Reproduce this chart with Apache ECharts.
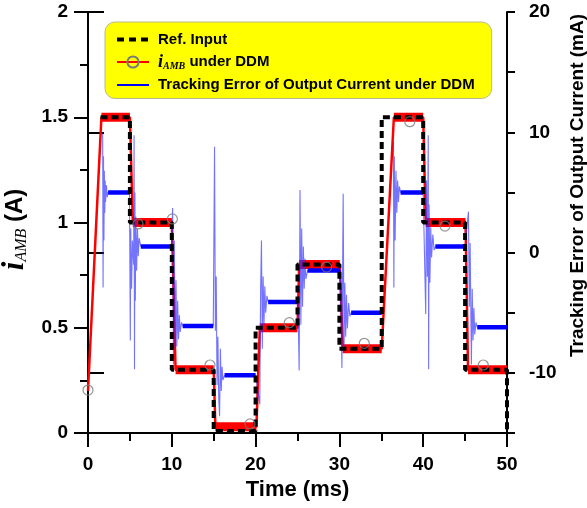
<!DOCTYPE html>
<html><head><meta charset="utf-8">
<script src="https://cdn.jsdelivr.net/npm/echarts@6/dist/echarts.min.js"></script>
<style>html,body{margin:0;padding:0;background:#fff}#c{width:587px;height:508px}</style>
</head><body><div id="c"></div>
<script>
// ---- tick labels ----
const xTicks = [0, 10, 20, 30, 40, 50];
const leftTicks = [0, 0.5, 1, 1.5, 2];
const rightTicks = [-10, 0, 10, 20];

// ---- Ref. Input (A) ----
const refT = [1.5, 5, 5, 10, 10, 15, 15, 20, 20, 25, 25, 30, 30, 35.05, 35.05, 40, 40, 45, 45, 50, 50];
const refV = [1.5, 1.5, 1.0, 1.0, 0.3, 0.3, 0.01, 0.01, 0.5, 0.5, 0.8, 0.8, 0.4, 0.4, 1.5, 1.5, 1.0, 1.0, 0.3, 0.3, 0];

// ---- i_AMB under DDM (A) ----
const iT = [0, 1.6, 5.0, 5.35, 10.0, 10.45, 15.0, 15.2, 20.1, 20.5, 25.0, 25.2, 30.05, 30.4, 35.05, 36.5, 40.0, 40.3, 45.05, 45.35, 50];
const iV = [0.2, 1.5, 1.5, 1.0, 1.0, 0.3, 0.3, 0.03, 0.03, 0.5, 0.5, 0.8, 0.8, 0.4, 0.4, 1.5, 1.5, 1.0, 1.0, 0.3, 0.3];

// ---- circle markers on i_AMB ----
const mkT = [0, 5.97, 10.07, 14.56, 19.33, 24.02, 28.48, 32.97, 38.4, 42.6, 47.17];
const mkV = [0.204, 0.993, 1.017, 0.323, 0.043, 0.524, 0.788, 0.426, 1.479, 0.983, 0.323];

// ---- Tracking error of output current (mA) ----
const errT = [1.75, 1.8, 1.85, 1.9, 1.95, 2.0, 2.05, 2.1, 2.2, 2.3, 2.4, 4.95,
  5.05, 5.1, 5.2, 5.3, 5.45, 5.5, 5.55, 5.6, 5.65, 5.7, 5.8, 5.9, 6.0, 6.1, 6.3, 9.95,
  10.1, 10.2, 10.3, 10.4, 10.5, 10.6, 10.7, 10.8, 10.9, 11.0, 11.15, 11.3, 14.95,
  15.1, 15.2, 15.3, 15.4, 15.5, 15.6, 15.7, 15.8, 15.9, 16.0, 16.1, 16.3, 20.0,
  20.5, 20.6, 20.7, 20.8, 20.9, 21.0, 21.1, 21.2, 21.35, 21.5, 25.05,
  25.2, 25.3, 25.4, 25.5, 25.6, 25.7, 25.8, 25.9, 26.0, 26.2, 30.1,
  30.3, 30.45, 30.55, 30.65, 30.75, 30.85, 30.95, 31.1, 31.25, 31.4, 35.05, 35.1,
  36.45, 36.5, 36.55, 36.65, 36.75, 36.85, 36.95, 37.05, 37.15, 37.3, 40.0,
  40.3, 40.4, 40.5, 40.6, 40.65, 40.7, 40.8, 40.9, 41.0, 41.15, 41.3, 41.45, 45.0,
  45.4, 45.5, 45.6, 45.75, 45.85, 45.95, 46.05, 46.15, 46.3, 46.45, 50];
const errV = [9.9, -2.9, 8.0, 1.0, 6.8, 3.3, 6.0, 4.2, 5.6, 4.6, 5.0, 5.0,
  -7.3, 2.0, -3.0, 1.0, -1.0, 9.75, -9.7, 5.0, -4.0, 3.0, -1.5, 2.0, -0.3, 1.2, 0.5, 0.5,
  3.7, -9.3, 1.0, -8.0, -2.3, -7.8, -4.0, -7.2, -5.2, -6.6, -5.8, -6.1, -6.1,
  8.8, -6.5, -2.0, -11.0, -7.0, -12.0, -13.6, -8.0, -11.5, -9.5, -10.6, -10.2, -10.2,
  -12.6, -3.0, 1.0, -8.0, -2.0, -6.0, -2.8, -5.0, -3.6, -4.1, -4.1,
  -9.8, 5.2, -6.0, 2.0, -4.5, 0.5, -3.0, -0.5, -2.2, -1.5, -1.5,
  -9.6, 4.9, -8.0, -2.5, -7.0, -3.5, -6.3, -4.2, -5.3, -5.0, -5.0, null,
  9.2, -2.9, 8.0, 1.0, 6.8, 3.3, 6.0, 4.2, 5.5, 5.0, 5.0,
  -5.1, 6.0, -2.0, 9.75, -9.7, 4.0, -2.5, 2.1, -0.4, 1.5, 0.2, 0.5, 0.5,
  3.4, -4.5, 0.8, -9.3, -3.0, -7.3, -4.6, -6.8, -5.8, -6.2, -6.2];

const N_REF = 'Ref. Input';
const N_I = 'i_AMB under DDM';
const N_ERR = 'Tracking Error of Output Current under DDM';

const pairs = (ts, vs) => ts.map((t, k) => [t, vs[k] == null ? '-' : vs[k]]);
function flats(ts, vs) {
  const out = [];
  for (let k = 0; k < ts.length - 1; k++) {
    if (vs[k] != null && vs[k] === vs[k + 1]) {
      out.push([ts[k], vs[k]], [ts[k + 1], vs[k + 1]], [ts[k + 1], '-']);
    }
  }
  return out;
}

const SANS = '"Liberation Sans", Arial, sans-serif';
const SERIF = '"Liberation Serif", "Times New Roman", serif';
const blk = '#000';
const NOFILL = 'rgba(0,0,0,0)';
const axisLine = { show: true, onZero: false, lineStyle: { color: blk, width: 2 } };
const lbl = (m) => ({ color: blk, fontFamily: SANS, fontWeight: 'bold', fontSize: 19, margin: m });

const chart = echarts.init(document.getElementById('c'), null, { renderer: 'canvas' });
chart.setOption({
  animation: false,
  backgroundColor: '#fff',
  grid: { left: 88, right: 80, top: 12, bottom: 75, outerBoundsMode: 'none', containLabel: false },
  legend: {
    orient: 'vertical', left: 105, top: 22,
    padding: [10, 17, 6, 10], itemGap: 6, itemWidth: 32, itemHeight: 14,
    backgroundColor: '#ffff00', borderColor: '#b8b890', borderWidth: 1, borderRadius: 10,
    data: [
      { name: N_REF, itemStyle: { color: NOFILL, borderWidth: 0 }, lineStyle: { color: '#000', width: 4, type: [7, 5] } },
      { name: N_I },
      { name: N_ERR, itemStyle: { color: NOFILL, borderWidth: 0 }, lineStyle: { color: '#0000ff', width: 2, opacity: 1 } }
    ],
    formatter: (n) => n === N_I ? '{i|i}{s|AMB}{t| under DDM}' : n,
    textStyle: {
      color: blk, fontFamily: SANS, fontWeight: 'bold', fontSize: 15, padding: [0, 0, 0, 4],
      rich: {
        i: { fontFamily: SERIF, fontStyle: 'italic', fontWeight: 'bold', fontSize: 18, color: blk },
        s: { fontFamily: SERIF, fontStyle: 'italic', fontSize: 10, color: blk, padding: [9, 0, 0, 0] },
        t: { fontFamily: SANS, fontWeight: 'bold', fontSize: 15, color: blk }
      }
    }
  },
  xAxis: {
    type: 'value', min: 0, max: 50, interval: 10,
    axisLine: axisLine,
    axisTick: { show: true, length: 14, lineStyle: { color: blk, width: 2 } },
    minorTick: { show: true, splitNumber: 2, length: 8, lineStyle: { color: blk, width: 2 } },
    splitLine: { show: false }, minorSplitLine: { show: false },
    axisLabel: Object.assign(lbl(22), { formatter: (v) => xTicks.includes(v) ? String(v) : '' }),
    name: 'Time (ms)', nameLocation: 'middle', nameGap: 42,
    nameTextStyle: { color: blk, fontFamily: SANS, fontWeight: 'bold', fontSize: 22 }
  },
  yAxis: [
    {
      type: 'value', position: 'left', min: 0, max: 2, interval: 0.5,
      axisLine: axisLine,
      axisTick: { show: true, length: 14, lineStyle: { color: blk, width: 2 } },
      minorTick: { show: true, splitNumber: 2, length: 8, lineStyle: { color: blk, width: 2 } },
      splitLine: { show: false }, minorSplitLine: { show: false },
      axisLabel: Object.assign(lbl(20), { formatter: (v) => leftTicks.includes(v) ? String(v) : '' }),
      name: '{i|i}{s|AMB}{a| (A)}', nameLocation: 'middle', nameGap: 35, nameRotate: 90,
      nameTextStyle: {
        padding: [0, 14, 0, 0],
        rich: {
          i: { fontFamily: SERIF, fontStyle: 'italic', fontWeight: 'bold', fontSize: 31, color: blk },
          s: { fontFamily: SERIF, fontStyle: 'italic', fontSize: 16, color: blk, padding: [13, 0, 0, 0] },
          a: { fontFamily: SANS, fontWeight: 'bold', fontSize: 24, color: blk }
        }
      }
    },
    {
      type: 'value', position: 'right', min: -15, max: 20, interval: 5,
      axisLine: axisLine,
      axisTick: { show: true, length: 8, lineStyle: { color: blk, width: 2 } },
      splitLine: { show: false },
      axisLabel: Object.assign(lbl(22), { formatter: (v) => rightTicks.includes(v) ? String(v) : '' }),
      name: 'Tracking Error of Output Current (mA)', nameLocation: 'middle', nameGap: 61, nameRotate: 90,
      nameTextStyle: { color: blk, fontFamily: SANS, fontWeight: 'bold', fontSize: 19, padding: [0, 0, 0, 74] }
    },
    {
      type: 'value', position: 'right', min: -15, max: 20,
      axisLine: { show: false },
      axisTick: { show: true, customValues: rightTicks, length: 16, lineStyle: { color: blk, width: 2 } },
      axisLabel: { show: false }, splitLine: { show: false }
    }
  ],
  series: [
    {
      name: '_iband', type: 'line', yAxisIndex: 0, data: flats(iT, iV), symbol: 'none', silent: true,
      lineStyle: { color: '#ff0000', width: 9, cap: 'butt' }, z: 1
    },
    {
      name: N_I, type: 'line', yAxisIndex: 0, data: pairs(iT, iV),
      symbol: 'circle', symbolSize: 10, showSymbol: false,
      itemStyle: { color: NOFILL, borderColor: '#7a7a7a', borderWidth: 1.2 },
      lineStyle: { color: '#ff0000', width: 2.5 }, z: 2
    },
    {
      name: N_ERR, type: 'line', yAxisIndex: 1, data: pairs(errT, errV), symbol: 'none',
      itemStyle: { color: NOFILL },
      lineStyle: { color: 'rgba(40,40,255,0.65)', width: 1.1 }, z: 3
    },
    {
      name: '_errband', type: 'line', yAxisIndex: 1, data: flats(errT, errV), symbol: 'none', silent: true,
      lineStyle: { color: '#0000ff', width: 4.5, cap: 'butt' }, z: 4
    },
    {
      name: N_REF, type: 'line', yAxisIndex: 0, data: pairs(refT, refV), symbol: 'none',
      itemStyle: { color: NOFILL },
      lineStyle: { color: '#000', width: 4, type: [7, 4] }, z: 5
    },
    {
      name: '_mk', type: 'scatter', yAxisIndex: 0, data: pairs(mkT, mkV),
      symbol: 'circle', symbolSize: 10,
      itemStyle: { color: NOFILL, borderColor: '#7a7a7a', borderWidth: 1.2 }, z: 6
    }
  ]
});
</script></body></html>
